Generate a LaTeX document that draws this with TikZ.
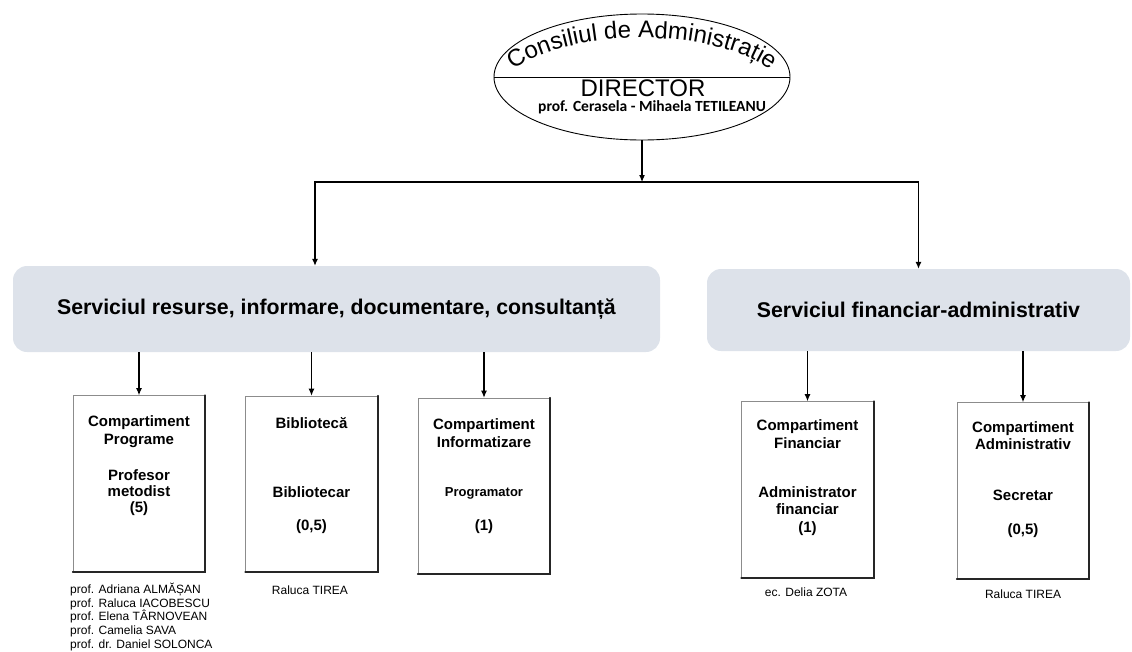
\documentclass[tikz,border=0pt]{standalone}
\usepackage{fontspec}
\setmainfont{Liberation Sans}
\newfontfamily\carlito{Carlito}
\usetikzlibrary{shapes.geometric,arrows.meta,decorations.text}

\begin{document}
\begin{tikzpicture}[x=1pt, y=-1pt,
  sageata/.style={line width=1.1pt, -{Latex[length=7pt,width=6pt]}},
  serviciu/.style={rounded corners=14pt, fill={rgb,255:red,221;green,226;blue,234}, font=\bfseries\fontsize{21.3}{24}\selectfont},
  comp/.style={draw=black!45, line width=0.6pt, fill=white, minimum width=132pt, minimum height=176pt},
  umbra/.style={line width=1.8pt, line cap=round, black!85},
  titlu/.style={align=center, font=\bfseries\fontsize{15}{17.5}\selectfont},
  nume/.style={font=\fontsize{12}{13.7}\selectfont}]
\useasboundingbox (0,0) rectangle (1132,651);

% consiliu + director
\node[ellipse, draw, line width=0.9pt, minimum width=296pt, minimum height=126pt] (consiliu) at (642,77) {};
\draw[line width=0.9pt] (consiliu.west) -- (consiliu.east);
\path[decorate, decoration={text along path, text align=center,
  text={|\fontsize{24}{24}\selectfont|Consiliul de Administrație}}]
  (642,99) ++(205:146 and 61) arc[start angle=205, end angle=335, x radius=146, y radius=61];
\node[font=\fontsize{24}{24}\selectfont] (director) at (643,88) {DIRECTOR};
\node[font=\carlito\bfseries\fontsize{15.5}{15.5}\selectfont] (numedir) at (652,107) {prof. Cerasela - Mihaela TETILEANU};

% servicii
\node[serviciu, minimum width=647pt, minimum height=86pt] (srv1) at (336.5,309) {Serviciul resurse, informare, documentare, consultanță};
\node[serviciu, minimum width=423pt, minimum height=82pt] (srv2) at (918.5,310) {Serviciul financiar-administrativ};

\coordinate (bus) at (642,182);
\draw[sageata] (consiliu.south) -- (bus);
\draw[sageata] (bus) -| ([xshift=-21.5pt]srv1.north);
\draw[sageata] (bus) -| (srv2.north);

% compartimente
\node[comp] (b1) at (139,483.5) {};
\node[comp] (b2) at (311.5,484) {};
\node[comp] (b3) at (484,486) {};
\node[comp] (b4) at (807.5,489.5) {};
\node[comp] (b5) at (1023,490.5) {};
\foreach \b/\s in {b1/srv1,b2/srv1,b3/srv1,b4/srv2,b5/srv2}{
  \draw[sageata] (\s.south -| \b.north) -- (\b.north);
  \draw[umbra] (\b.north east) -- (\b.south east) -- (\b.south west);
}

\node[titlu] (b1t) at (139,431.5) {Compartiment\\Programe};
\node[titlu, font=\bfseries\fontsize{15}{16}\selectfont] (b1r) at (139,492.5) {Profesor\\metodist\\(5)};
\node[titlu] (b2t) at (311.5,423) {Bibliotecă};
\node[titlu] (b2r) at (311.5,492) {Bibliotecar};
\node[titlu] (b2n) at (311.5,527) {(0,5)};
\node[titlu] (b3t) at (484,433) {Compartiment\\Informatizare};
\node[titlu, font=\bfseries\fontsize{13}{15}\selectfont] (b3r) at (484,493) {Programator};
\node[titlu] (b3n) at (484,527) {(1)};
\node[titlu] (b4t) at (807.5,434) {Compartiment\\Financiar};
\node[titlu] (b4r) at (807.5,511) {Administrator\\financiar\\(1)};
\node[titlu] (b5t) at (1023,435.5) {Compartiment\\Administrativ};
\node[titlu] (b5r) at (1023,495) {Secretar};
\node[titlu] (b5n) at (1023,531) {(0,5)};

% persoane
\node[nume, align=left, anchor=west, inner sep=0pt] (echipa) at (70,617) {prof. Adriana ALMĂȘAN\\prof. Raluca IACOBESCU\\prof. Elena TÂRNOVEAN\\prof. Camelia SAVA\\prof. dr. Daniel SOLONCA};
\node[nume] (bibl) at (310,590) {Raluca TIREA};
\node[nume] (fin) at (806,592) {ec. Delia ZOTA};
\node[nume] (secr) at (1023,594) {Raluca TIREA};
\end{tikzpicture}
\end{document}
